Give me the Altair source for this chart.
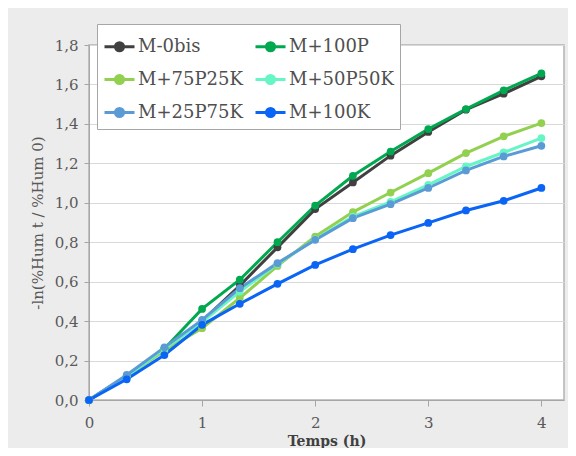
import altair as alt
import pandas as pd

times = [0, 1/3, 2/3, 1, 4/3, 5/3, 2, 7/3, 8/3, 3, 10/3, 11/3, 4]
series_names = ["M-0bis", "M+100P", "M+75P25K", "M+50P50K", "M+25P75K", "M+100K"]
series_colors = ["#404040", "#00a850", "#92d050", "#66f5c5", "#5b9bd5", "#0a64f5"]

m0bis    = [0, 0.12, 0.26, 0.40, 0.58, 0.774, 0.968, 1.103, 1.239, 1.359, 1.472, 1.553, 1.641]
m100p    = [0, 0.12, 0.26, 0.462, 0.61, 0.80, 0.986, 1.137, 1.260, 1.374, 1.475, 1.570, 1.656]
m75p25k  = [0, 0.12, 0.25, 0.364, 0.517, 0.68, 0.829, 0.953, 1.052, 1.150, 1.252, 1.337, 1.404]
m50p50k  = [0, 0.12, 0.26, 0.395, 0.55, 0.69, 0.815, 0.93, 1.005, 1.091, 1.184, 1.255, 1.328]
m25p75k  = [0, 0.127, 0.267, 0.406, 0.567, 0.694, 0.812, 0.922, 0.993, 1.075, 1.164, 1.235, 1.289]
m100k    = [0, 0.105, 0.228, 0.381, 0.488, 0.589, 0.685, 0.765, 0.836, 0.898, 0.961, 1.01, 1.075]

all_series = [m0bis, m100p, m75p25k, m50p50k, m25p75k, m100k]

rows = []
for name, vals in zip(series_names, all_series):
    for t, v in zip(times, vals):
        rows.append({"t": t, "v": v, "serie": name})
df = pd.DataFrame(rows)

FONT = "DejaVu Serif"

legend = alt.Legend(
    title=None,
    orient="none",
    legendX=8,
    legendY=-21,
    direction="horizontal",
    columns=2,
    columnPadding=6,
    rowPadding=6,
    padding=6,
    fillColor="white",
    strokeColor="#a6a6a6",
    labelFont=FONT,
    labelFontSize=18,
    labelColor="#505050",
    labelOffset=2,
    symbolType="M-1,0L1,0M-0.27,0A0.27,0.27,0,1,0,0.27,0A0.27,0.27,0,1,0,-0.27,0",
    symbolSize=900,
    symbolStrokeWidth=3,
    symbolOpacity=1,
)

color = alt.Color("serie:N",
                  scale=alt.Scale(domain=series_names, range=series_colors),
                  sort=series_names,
                  legend=legend)

x = alt.X("t:Q",
          scale=alt.Scale(domain=[0, 4.2], nice=False, zero=True),
          axis=alt.Axis(title="Temps (h)", values=[0, 1, 2, 3, 4], grid=False,
                        labelFlush=False,
                        labelFont=FONT, labelFontSize=15, labelColor="#595959",
                        labelPadding=9, tickSize=6, tickColor="#a6a6a6",
                        domainColor="#a6a6a6",
                        titleFont=FONT, titleFontSize=14, titleFontWeight="bold",
                        titleColor="#404040", titlePadding=4))
y = alt.Y("v:Q",
          scale=alt.Scale(domain=[0, 1.8], nice=False),
          axis=alt.Axis(title="-ln(%Hum t / %Hum 0)",
                        values=[0, 0.2, 0.4, 0.6, 0.8, 1.0, 1.2, 1.4, 1.6, 1.8],
                        labelExpr="replace(format(datum.value, '.1f'), '.', ',')",
                        labelFlush=False,
                        grid=True, gridColor="#d9d9d9", gridWidth=1.2,
                        labelFont=FONT, labelFontSize=15, labelColor="#595959",
                        labelPadding=6, tickSize=5, tickColor="#a6a6a6",
                        domainColor="#a6a6a6",
                        titleFont=FONT, titleFontSize=15, titleFontWeight="normal",
                        titleColor="#595959", titlePadding=9))

base = alt.Chart(df).encode(x=x, y=y, color=color)
lines = base.mark_line(strokeWidth=3)
points = base.mark_point(filled=True, size=60, opacity=1)

chart = (lines + points).properties(
    width=475,
    height=355,
    autosize=alt.AutoSizeParams(type="none"),
    padding={"left": 81, "top": 37, "right": 4, "bottom": 48},
    background="#ececec",
).configure_view(fill="white", stroke="#b3b3b3", strokeWidth=1.5)

chart.save("out.html", embed_options={"renderer": "svg", "actions": False})
